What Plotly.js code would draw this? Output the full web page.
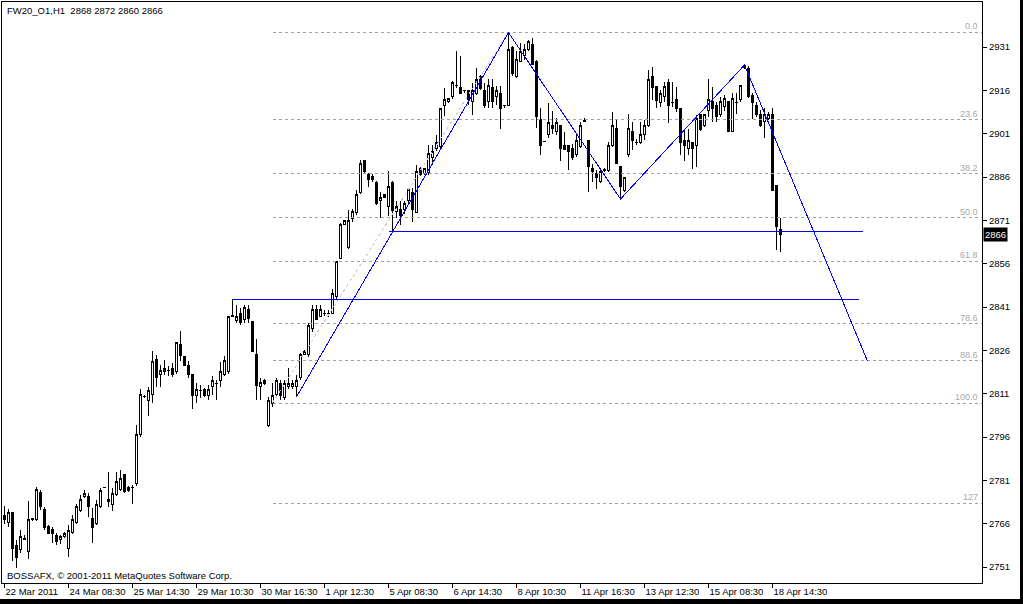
<!DOCTYPE html>
<html>
<head>
<meta charset="utf-8">
<script src="https://cdn.plot.ly/plotly-3.0.1.min.js"></script>
<style>
  html, body { margin: 0; padding: 0; background: #000; }
  #chart { width: 1020px; height: 599px; background: #fff; }
  #chart .boxlayer path { shape-rendering: crispEdges !important; }
  #chart .scatterlayer .js-line { shape-rendering: crispEdges; }
</style>
</head>
<body>
<div id="chart"></div>
<script>
// ---- Hourly candles FW20 (open, high, low, close) ----
const opens = [2769,2766.5,2769.8,2758.6,2757,2760.7,2756.3,2767.6,2767.5,2776.8,
2770.8,2765,2764.1,2761.8,2760.6,2761.5,2757.5,2762.9,2766.4,2770.5,
2775.6,2775.6,2767.9,2766.2,2771.9,2778.6,2774.5,2772.5,2776,2777.9,
2782.9,2778.6,2778.6,2780,2797,2810,2808.8,2810.9,2822.7,2817.8,
2819.8,2819,2819.7,2818.6,2827.9,2823.8,2820.9,2817.8,2810.5,2812,
2812.5,2810.5,2813.4,2814.6,2815.5,2817.8,2818.6,2837.9,2836.5,2838.8,
2836.7,2840,2835.9,2824.7,2813.4,2815.7,2800,2807.6,2810.8,2814.6,
2809.7,2813.4,2813.4,2813.4,2816.5,2824.6,2824.7,2833.6,2840,2837.9,
2838.8,2838.8,2838.8,2844.6,2857.8,2869.7,2861.5,2871.7,2873.7,2880.6,
2891.9,2887,2886.1,2884,2877.8,2879.8,2875.7,2884,2874.1,2874.7,
2874.7,2877.8,2880.8,2873.8,2888.8,2887.2,2887.7,2892.8,2896,2896.6,
2910.7,2912,2913.9,2917.7,2917,2916,2916,2912,2915.1,2920.8,
2916,2912,2917,2913.9,2915.1,2910.8,2910.8,2930.9,2920.8,2926,
2928,2930,2931.9,2926.1,2906.1,2898.2,2900.8,2904,2901.7,2904,
2897.1,2897.1,2895.9,2893.8,2896.5,2905.4,2898.8,2889,2887.3,2884.6,
2888.4,2888.4,2897.1,2902.8,2889.6,2881.5,2893.8,2901.7,2898,2898,
2900.8,2904,2920.7,2917.3,2911.8,2913.8,2918.8,2911.8,2913,2909.8,
2898.8,2895.9,2898,2896.8,2907.5,2903.8,2909.2,2912.1,2910.9,2907.7,
2910.3,2912.1,2901.7,2911.8,2913,2923.8,2923.6,2914.1,2910.9,2907.5,
2905.2,2906.3,2907.7,2883,2868];
const highs = [2772,2771,2770,2760.4,2763.8,2762,2774,2768,2778.8,2777.7,
2771.9,2765.6,2765,2762.7,2762,2763,2765.6,2769,2773,2776,
2777.7,2776.5,2771.3,2774.2,2778.3,2778.8,2784,2778.3,2784,2784.6,
2783,2779,2779.4,2800.2,2812.6,2810.5,2813.4,2825.8,2824.4,2821,
2822.7,2820.6,2821.7,2829,2832.8,2824,2822.3,2818,2814.6,2814,
2813,2814,2817.1,2815.7,2822.1,2824,2838,2843.7,2841.7,2840.6,
2841.7,2841.7,2836,2829.8,2816.3,2816,2810,2814.6,2816.6,2815.7,
2815.7,2819.8,2815.7,2817.5,2825,2826,2835.4,2841.7,2841.7,2841.7,
2840,2840.1,2847.1,2857,2870.2,2871,2874.6,2874.8,2881.7,2891.9,
2892,2887.5,2887,2884.5,2880.9,2880,2888.2,2884.5,2877.8,2877.6,
2877.6,2882.2,2882.2,2890.3,2889.5,2889,2897.2,2897.2,2900.4,2910,
2917,2913.5,2919.1,2929.7,2927.8,2916.2,2916.2,2918.5,2923.7,2921.4,
2918.5,2920,2920,2917.4,2917.4,2911,2936,2931.5,2929.5,2932.4,
2931.9,2933.3,2934,2926.5,2909.8,2898.5,2911.8,2908.8,2906.3,2904.2,
2901.7,2897.2,2897.6,2900.5,2905,2906.5,2899,2890.7,2888.4,2889.2,
2889,2898.2,2908.6,2905.7,2890,2886,2907.7,2904.9,2899.3,2904.9,
2905.7,2923,2924.2,2917.5,2916.1,2919,2919.9,2918.8,2917.3,2910,
2902.3,2902.6,2898.2,2907.5,2907.7,2908,2919.9,2917.3,2912.1,2913.8,
2914.4,2912.3,2915,2915,2918,2924.8,2924.5,2915,2912.1,2909.2,
2909.8,2908.6,2909.8,2883.2,2872];
const lows = [2766,2765,2753,2750.6,2755.8,2760.5,2753.7,2767,2767,2770.8,
2763.8,2762.3,2759.2,2758.6,2759,2761,2754.6,2762.5,2766,2770,
2775,2768.5,2759.2,2765.6,2771.5,2778.5,2771.9,2770.5,2775.5,2777.5,
2776.5,2777,2773,2779,2796,2809.6,2803.3,2807.7,2813.4,2813.4,
2817.5,2817.1,2816.7,2818,2822.4,2820.5,2816.3,2805.6,2807.7,2809.4,
2810,2808.8,2810.5,2808.8,2813.4,2817,2818,2837.5,2835.6,2834.8,
2835.4,2835.6,2825.4,2808.8,2808.8,2814,2799.6,2806.5,2810,2808.8,
2808.8,2812.8,2812.8,2810,2815.7,2824.3,2823.8,2832.5,2836.5,2837.7,
2837.9,2837.7,2838.5,2843.4,2857.5,2869.5,2861,2870.5,2873,2880,
2887,2882.7,2884.4,2876.3,2871.7,2878.8,2872.5,2867.1,2872,2869.5,
2873.2,2877,2870.6,2873.5,2886.5,2886.8,2886.8,2890.3,2894.9,2896,
2907,2911.8,2913.1,2916.8,2914.8,2915.1,2911,2907.6,2914.5,2916.2,
2909.9,2909.9,2909.9,2911,2902.7,2910,2910.5,2921,2920.3,2925.7,
2926.5,2929.5,2924.8,2902.9,2893.8,2898,2899.6,2900.8,2900.5,2891.5,
2895.3,2888.4,2891.9,2893,2895.9,2905.3,2880.7,2884.4,2881.8,2883.8,
2887.8,2887.8,2896.5,2890.4,2878.2,2881,2893,2895.3,2897,2897.6,
2898.8,2903.5,2912.6,2909.8,2910.3,2912,2904.6,2910.3,2908.6,2893.8,
2891.5,2893.6,2888.8,2889.6,2902,2903.5,2906.9,2905.2,2905.2,2906.9,
2908.8,2901.5,2901.5,2908,2912.1,2923.5,2913.5,2906.1,2906.9,2903.5,
2899.6,2905.7,2881.2,2860.7,2860];
const closes = [2767.5,2770,2757.5,2754.5,2761.5,2760.8,2767.5,2767.7,2777.7,2771.9,
2764.8,2762.7,2762.5,2759.8,2761.5,2762.7,2763.8,2767.5,2771.9,2774.5,
2776.5,2771.9,2764.8,2772.7,2777.5,2778.7,2773.7,2776.5,2780.6,2781.7,
2777.1,2777.5,2778.7,2797,2810.9,2810.1,2812,2822.1,2816.7,2819,
2818.6,2819.1,2817.5,2828.8,2824.4,2820.7,2817.5,2810.5,2812.5,2812.1,
2810.5,2812.6,2815.7,2814.7,2818.6,2822.4,2837.7,2838,2837.9,2835.6,
2840.9,2837.1,2825.6,2814,2814.8,2814.6,2808.8,2810.5,2815.7,2810.5,
2814.6,2814.6,2814.6,2815.7,2824.7,2825.8,2834.8,2840,2836.8,2840,
2838.9,2838.9,2845.7,2856.7,2869.7,2870.8,2870.8,2874,2879.8,2890.7,
2887.8,2885,2885,2876.9,2879,2879,2882.9,2874.6,2875.8,2872.7,
2877,2881.6,2874.7,2888,2886.8,2888.8,2894,2894.9,2898.1,2909.9,
2913,2913.1,2918.9,2917.8,2915.1,2916.1,2912.8,2916,2919.7,2916.8,
2910.7,2917.7,2912.2,2916.1,2909.7,2910.9,2930.1,2921.7,2926.6,2929.5,
2930,2933.1,2925,2906.9,2896.8,2898.3,2904.9,2902.8,2904.9,2895.9,
2895.7,2894.8,2892.7,2898.8,2904,2905.5,2889.6,2887.8,2885.8,2888,
2888.5,2897.1,2904,2890.7,2882.6,2885.8,2902.8,2898.8,2898.1,2900.8,
2904,2919.9,2916.9,2912.6,2915,2917.3,2910.7,2911.9,2909.8,2898,
2896.8,2898.5,2895.9,2906.3,2902.6,2907.7,2913,2909.8,2906.9,2912.1,
2913.2,2901.7,2913.2,2911.9,2917.8,2924.6,2913.8,2911.8,2907.5,2903.8,
2907.5,2907.7,2881.5,2868.8,2866];

// ---- axis tick labels ----
const xTickBars = [0,16,32,48,64,80,96,112,128,144,160,176,192];
const xTickText = ["22 Mar 2011","24 Mar 08:30","25 Mar 14:30","29 Mar 10:30","30 Mar 16:30",
  "1 Apr 12:30","5 Apr 08:30","6 Apr 14:30","8 Apr 10:30","11 Apr 16:30",
  "13 Apr 12:30","15 Apr 08:30","18 Apr 14:30"];
const yTickVals = [2751,2766,2781,2796,2811,2826,2841,2856,2871,2886,2901,2916,2931];

// ---- drawn objects ----
const zigzagBars = [73, 126, 154, 185, 215.75];
const zigzagPrices = [2809.9, 2936, 2878.4, 2924.8, 2822.3];
const hlinePrices = [2867, 2843.8];
const hlineStartBars = [96, 57];
const hlineEndBars = [214.5, 213.5];
const fibStartBar = 67, fibEndBar = 126;
const fibLow = 2807.8, fibHigh = 2936.2;
const fibRatios = [0, 0.236, 0.382, 0.5, 0.618, 0.786, 0.886, 1.0, 1.27];
const fibLabels = ["0.0","23.6","38.2","50.0","61.8","78.6","88.6","100.0","127"];
const lastPrice = 2866;

const xMin = -0.625, xMax = 244.375;
const yMin = 2745.5, yMax = 2946.6;

const barIdx = opens.map((_, i) => i);
const FONT = "Liberation Sans, Arial, sans-serif";

const traces = [];

// Fibonacci levels
fibRatios.forEach((r) => {
  const p = fibHigh - r * (fibHigh - fibLow);
  traces.push({
    type: "scatter", mode: "lines", x: [fibStartBar, xMax + 1], y: [p, p],
    line: { color: "#a0a0a0", width: 1, dash: "3px,3px" }, hoverinfo: "skip", showlegend: false
  });
});
// Fibonacci diagonal
traces.push({
  type: "scatter", mode: "lines", x: [fibStartBar, fibEndBar], y: [fibLow, fibHigh],
  line: { color: "#c4c4ee", width: 1, dash: "dot" }, hoverinfo: "skip", showlegend: false
});

// Candles
traces.push({
  type: "candlestick", x: barIdx, open: opens, high: highs, low: lows, close: closes,
  increasing: { line: { color: "#000000", width: 1 }, fillcolor: "#ffffff" },
  decreasing: { line: { color: "#000000", width: 1 }, fillcolor: "#000000" },
  whiskerwidth: 0, hoverinfo: "skip", showlegend: false
});

// Horizontal lines
hlinePrices.forEach((p, k) => {
  traces.push({
    type: "scatter", mode: "lines", x: [hlineStartBars[k], hlineEndBars[k]], y: [p, p],
    line: { color: "#0000ff", width: 1 }, hoverinfo: "skip", showlegend: false
  });
});
// Zigzag
traces.push({
  type: "scatter", mode: "lines", x: zigzagBars, y: zigzagPrices,
  line: { color: "#0000ff", width: 1 }, hoverinfo: "skip", showlegend: false
});

const annotations = [];
fibRatios.forEach((r, k) => {
  const p = fibHigh - r * (fibHigh - fibLow);
  annotations.push({
    xref: "paper", yref: "y", x: 1, y: p, xanchor: "right", yanchor: "bottom",
    xshift: -2, yshift: -1, text: fibLabels[k], showarrow: false,
    font: { family: FONT, size: 9, color: "#a8a8a8" }
  });
});
annotations.push({
  xref: "paper", yref: "paper", x: 0, y: 1, xanchor: "left", yanchor: "top",
  xshift: 3, yshift: -1, text: "FW20_O1,H1  2868 2872 2860 2866", showarrow: false,
  font: { family: FONT, size: 9.5, color: "#000" }
});
annotations.push({
  xref: "paper", yref: "paper", x: 0, y: 0, xanchor: "left", yanchor: "bottom",
  xshift: 3, yshift: 0, text: "BOSSAFX, © 2001-2011 MetaQuotes Software Corp.", showarrow: false,
  font: { family: FONT, size: 9.5, color: "#000" }
});
annotations.push({
  xref: "paper", yref: "y", x: 1, y: lastPrice, xanchor: "left", yanchor: "middle",
  xshift: 1, text: String(lastPrice), showarrow: false, bgcolor: "#000000",
  borderpad: 1, font: { family: FONT, size: 9.5, color: "#ffffff" }
});

const layout = {
  width: 1020, height: 599,
  margin: { l: 2, r: 38, t: 2, b: 16, pad: 0 },
  paper_bgcolor: "#ffffff", plot_bgcolor: "#ffffff",
  showlegend: false,
  boxgap: 0.5, boxgroupgap: 0,
  font: { family: FONT, size: 9.5, color: "#000" },
  xaxis: {
    type: "linear", range: [xMin, xMax], rangeslider: { visible: false },
    tickmode: "array", tickvals: xTickBars, ticktext: xTickText, tickangle: 0,
    ticks: "outside", ticklen: 4, tickcolor: "#000", tickwidth: 1,
    ticklabelposition: "outside right",
    showline: true, linecolor: "#000", linewidth: 1, mirror: true,
    showgrid: false, zeroline: false, fixedrange: true,
    tickfont: { family: FONT, size: 9.5, color: "#000" }
  },
  yaxis: {
    side: "right", range: [yMin, yMax],
    tickmode: "array", tickvals: yTickVals, ticktext: yTickVals.map(String),
    ticks: "outside", ticklen: 4, tickcolor: "#000", tickwidth: 1,
    showline: true, linecolor: "#000", linewidth: 1, mirror: true,
    showgrid: false, zeroline: false, fixedrange: true,
    tickfont: { family: FONT, size: 9.5, color: "#000" }
  },
  annotations: annotations
};

Plotly.newPlot("chart", traces, layout, { staticPlot: true, displayModeBar: false });
</script>
</body>
</html>
